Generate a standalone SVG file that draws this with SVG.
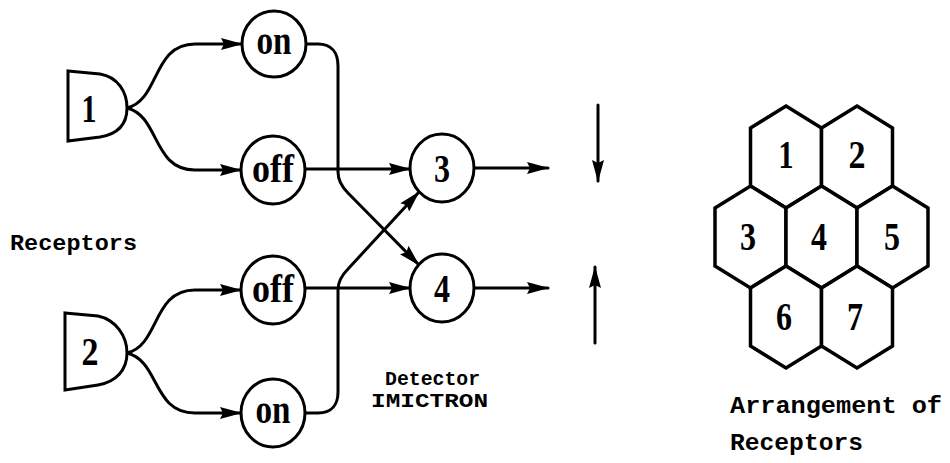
<svg xmlns="http://www.w3.org/2000/svg" width="950" height="463" viewBox="0 0 950 463">
<style>
.shape{fill:#fff;stroke:#000;stroke-width:3}
.hex{fill:#fff;stroke:#000;stroke-width:3.5;stroke-linejoin:miter}
.ln{fill:none;stroke:#000;stroke-width:3;stroke-linecap:round}
.lbl{font-family:"Liberation Serif","Times New Roman",serif;font-weight:bold;font-size:40px;text-anchor:middle;fill:#000}
.tt{font-family:"Liberation Mono","Courier New",monospace;font-weight:bold;fill:#000}
</style>
<defs>
<marker id="ah" markerUnits="userSpaceOnUse" markerWidth="22" markerHeight="12" refX="21" refY="6" orient="auto">
<path d="M0,0 L22,6 L0,12 L3,6 Z" fill="#000"/>
</marker>
</defs>
<rect width="950" height="463" fill="#fff"/>

<g id="connectors">
<path class="ln" marker-end="url(#ah)" d="M127,108 C160,100 152,44 195,44 L242,44"/>
<path class="ln" marker-end="url(#ah)" d="M127,108 C160,116 152,170 195,170 L241,170"/>
<path class="ln" marker-end="url(#ah)" d="M127,353 C160,345 152,290 195,290 L241,290"/>
<path class="ln" marker-end="url(#ah)" d="M127,353 C160,361 152,413 195,413 L241,413"/>
<path class="ln" marker-end="url(#ah)" d="M305,44 L318,44 C332,44 338,53 338,66 L338,172 Q338,183 348,193 L419,265"/>
<path class="ln" marker-end="url(#ah)" d="M305,413 L318,413 C332,413 338,404 338,392 L338,290 Q338,279 348,269 L419,192"/>
<path class="ln" marker-end="url(#ah)" d="M305,169 L410,169"/>
<path class="ln" marker-end="url(#ah)" d="M305,288 L410,288"/>
<path class="ln" marker-end="url(#ah)" d="M474,168 L548,168"/>
<path class="ln" marker-end="url(#ah)" d="M474,288 L548,288"/>
<path class="ln" marker-end="url(#ah)" d="M598,105 L598,181"/>
<path class="ln" marker-end="url(#ah)" d="M595,343 L595,267"/>
</g>

<g id="receptor1">
<path class="shape" d="M68,71 L100,74 C118,77 127,92 127,108 C127,124 118,134 100,137 L68,141 Z"/>
<text class="lbl" x="89" y="122" textLength="15" lengthAdjust="spacingAndGlyphs">1</text>
</g>
<g id="receptor2">
<path class="shape" d="M65,313 L98,316 C116,320 127,336 127,353 C127,370 116,382 98,385 L65,390 Z"/>
<text class="lbl" x="90" y="365" textLength="17" lengthAdjust="spacingAndGlyphs">2</text>
</g>

<g id="on1">
<ellipse class="shape" cx="274" cy="44" rx="32" ry="33"/>
<text class="lbl" x="274" y="54" textLength="35" lengthAdjust="spacingAndGlyphs">on</text>
</g>
<g id="off1">
<ellipse class="shape" cx="273" cy="170" rx="32" ry="34"/>
<text class="lbl" x="273" y="182" textLength="42" lengthAdjust="spacingAndGlyphs">off</text>
</g>
<g id="off2">
<ellipse class="shape" cx="273" cy="290" rx="32" ry="34"/>
<text class="lbl" x="273" y="302" textLength="42" lengthAdjust="spacingAndGlyphs">off</text>
</g>
<g id="on2">
<ellipse class="shape" cx="273" cy="413" rx="32" ry="34"/>
<text class="lbl" x="273" y="423" textLength="35" lengthAdjust="spacingAndGlyphs">on</text>
</g>

<g id="node3">
<ellipse class="shape" cx="442" cy="168" rx="32" ry="34"/>
<text class="lbl" x="442" y="182" textLength="16" lengthAdjust="spacingAndGlyphs">3</text>
</g>
<g id="node4">
<ellipse class="shape" cx="442" cy="288" rx="32" ry="34"/>
<text class="lbl" x="442" y="302" textLength="16" lengthAdjust="spacingAndGlyphs">4</text>
</g>

<g id="label-receptors">
<text class="tt" x="10" y="250" font-size="22" textLength="127" lengthAdjust="spacingAndGlyphs">Receptors</text>
</g>
<g id="label-detector">
<text class="tt" x="385" y="385" font-size="20" textLength="95" lengthAdjust="spacingAndGlyphs">Detector</text>
<text class="tt" x="371" y="407" font-size="20" textLength="117" lengthAdjust="spacingAndGlyphs">IMICTRON</text>
</g>

<g id="hex1"><polygon class="hex" points="786,106 821.5,128 821.5,186 786,208 750.5,186 750.5,128"/><text class="lbl" x="786" y="168" textLength="15" lengthAdjust="spacingAndGlyphs">1</text></g>
<g id="hex2"><polygon class="hex" points="857,106 892.5,128 892.5,186 857,208 821.5,186 821.5,128"/><text class="lbl" x="857" y="168" textLength="17" lengthAdjust="spacingAndGlyphs">2</text></g>
<g id="hex3"><polygon class="hex" points="750.5,186 786,208 786,266 750.5,288 715,266 715,208"/><text class="lbl" x="748" y="250" textLength="16" lengthAdjust="spacingAndGlyphs">3</text></g>
<g id="hex4"><polygon class="hex" points="821.5,186 857,208 857,266 821.5,288 786,266 786,208"/><text class="lbl" x="819" y="250" textLength="16" lengthAdjust="spacingAndGlyphs">4</text></g>
<g id="hex5"><polygon class="hex" points="892.5,186 928,208 928,266 892.5,288 857,266 857,208"/><text class="lbl" x="892" y="250" textLength="16" lengthAdjust="spacingAndGlyphs">5</text></g>
<g id="hex6"><polygon class="hex" points="786,266 821.5,288 821.5,346 786,368 750.5,346 750.5,288"/><text class="lbl" x="784" y="330" textLength="16" lengthAdjust="spacingAndGlyphs">6</text></g>
<g id="hex7"><polygon class="hex" points="857,266 892.5,288 892.5,346 857,368 821.5,346 821.5,288"/><text class="lbl" x="855" y="330" textLength="16" lengthAdjust="spacingAndGlyphs">7</text></g>

<g id="label-arrangement">
<text class="tt" x="730" y="413" font-size="24" textLength="212" lengthAdjust="spacingAndGlyphs">Arrangement of</text>
<text class="tt" x="730" y="450" font-size="24" textLength="133" lengthAdjust="spacingAndGlyphs">Receptors</text>
</g>
</svg>
